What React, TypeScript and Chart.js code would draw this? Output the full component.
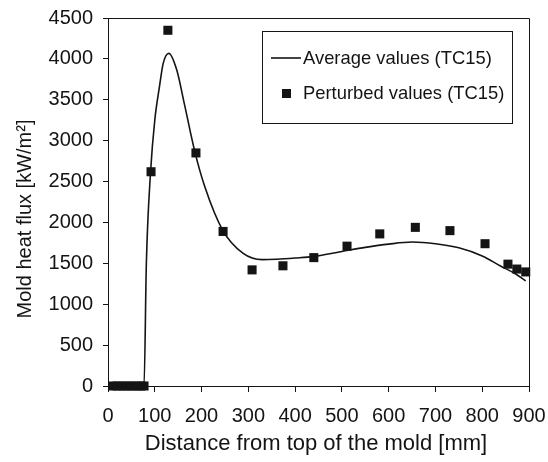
import { useEffect, useRef } from "react";
import { Chart, registerables } from "chart.js";

Chart.register(...registerables);

const FONT = '"Liberation Sans", Arial, sans-serif';
const INK = "#141414";

// Average values (TC15) - smooth curve
const avgX = [0, 77, 82, 91, 100, 110, 118, 130, 147, 163, 186, 207, 245, 289, 330, 360, 400, 440, 500, 550, 600, 650, 700, 750, 800, 840, 870, 893];
const avgY = [0, 0, 1500, 2620, 3250, 3660, 3945, 4067, 3863, 3456, 2857, 2436, 1907, 1622, 1545, 1550, 1565, 1585, 1645, 1695, 1735, 1760, 1740, 1690, 1590, 1465, 1375, 1285];

// Perturbed values (TC15) - square markers
const ptX = [10, 20, 30, 40, 50, 60, 70, 77, 92, 128, 188, 246, 308, 374, 440, 511, 581, 657, 731, 806, 855, 874, 893];
const ptY = [0, 0, 0, 0, 0, 0, 0, 0, 2620, 4350, 2850, 1890, 1420, 1470, 1570, 1710, 1860, 1940, 1900, 1740, 1490, 1430, 1395];

const xTicks = { min: 0, max: 900, step: 100 };
const yTicks = { min: 0, max: 4500, step: 500 };

const legendLabels = ["Average values (TC15)", "Perturbed values (TC15)"];
const xTitle = "Distance from top of the mold [mm]";
const yTitle = "Mold heat flux [kW/m\u00B2]";

const decor = {
  id: "decor",
  afterDraw(chart: any) {
    const { ctx, chartArea } = chart;
    const { left, right, top, bottom } = chartArea;
    ctx.save();
    ctx.strokeStyle = INK;
    ctx.lineWidth = 1;
    // top and right frame
    ctx.beginPath();
    ctx.moveTo(left, top + 0.5);
    ctx.lineTo(right + 0.5, top + 0.5);
    ctx.lineTo(right + 0.5, bottom);
    ctx.stroke();

    // axis titles
    ctx.fillStyle = INK;
    ctx.font = `22px ${FONT}`;
    ctx.textAlign = "center";
    ctx.textBaseline = "alphabetic";
    ctx.fillText(xTitle, 316, 450);

    ctx.save();
    ctx.translate(31, 219);
    ctx.rotate(-Math.PI / 2);
    ctx.font = `20px ${FONT}`;
    ctx.textBaseline = "alphabetic";
    ctx.fillText(yTitle, 0, 0);
    ctx.restore();

    // legend box
    const bx = 262, by = 31, bw = 250, bh = 92;
    ctx.fillStyle = "#fff";
    ctx.fillRect(bx, by, bw, bh);
    ctx.strokeStyle = INK;
    ctx.lineWidth = 1;
    ctx.strokeRect(bx + 0.5, by + 0.5, bw, bh);

    ctx.font = `18.4px ${FONT}`;
    ctx.textAlign = "left";
    ctx.textBaseline = "middle";
    ctx.fillStyle = INK;
    // line sample
    ctx.lineWidth = 1.6;
    ctx.beginPath();
    ctx.moveTo(271, 58);
    ctx.lineTo(301, 58);
    ctx.stroke();
    ctx.fillText(legendLabels[0], 303, 59);
    // square sample
    ctx.fillRect(282, 89, 9, 9);
    ctx.fillText(legendLabels[1], 303, 94);
    ctx.restore();
  },
};

export default function App() {
  const ref = useRef<HTMLCanvasElement>(null);
  useEffect(() => {
    document.body.style.margin = "0";
    const canvas = ref.current!;
    const chart = new Chart(canvas, {
      type: "scatter",
      data: {
        datasets: [
          {
            type: "line",
            label: legendLabels[0],
            data: avgX.map((x, i) => ({ x, y: avgY[i] })),
            borderColor: INK,
            borderWidth: 1.6,
            pointRadius: 0,
            cubicInterpolationMode: "monotone",
            fill: false,
            clip: false,
          } as any,
          {
            label: legendLabels[1],
            data: ptX.map((x, i) => ({ x, y: ptY[i] })),
            pointStyle: "rect",
            pointRadius: 6.4,
            backgroundColor: INK,
            borderColor: INK,
            borderWidth: 0,
            clip: false,
          } as any,
        ],
      },
      options: {
        responsive: false,
        animation: false,
        layout: { padding: { top: 18, right: 19, left: 0, bottom: 0 } },
        plugins: { legend: { display: false }, tooltip: { enabled: false } },
        scales: {
          x: {
            type: "linear",
            min: xTicks.min,
            max: xTicks.max,
            ticks: { stepSize: xTicks.step, color: INK, font: { family: FONT, size: 20 }, padding: 12, maxRotation: 0, autoSkip: false, callback: (v: any) => String(v) },
            grid: { drawOnChartArea: false, tickLength: 6, color: INK },
            border: { color: INK, width: 1 },
            afterFit(s: any) { s.height = 76; s.paddingLeft = 0; s.paddingRight = 0; },
          },
          y: {
            type: "linear",
            min: yTicks.min,
            max: yTicks.max,
            ticks: { stepSize: yTicks.step, color: INK, font: { family: FONT, size: 20 }, padding: 10, autoSkip: false, callback: (v: any) => String(v) },
            grid: { drawOnChartArea: false, tickLength: 5, color: INK },
            border: { color: INK, width: 1 },
            afterFit(s: any) { s.width = 108; s.paddingTop = 0; s.paddingBottom = 0; },
          },
        },
      },
      plugins: [decor],
    });
    return () => chart.destroy();
  }, []);
  return <canvas ref={ref} width={548} height={462} style={{ display: "block" }} />;
}
